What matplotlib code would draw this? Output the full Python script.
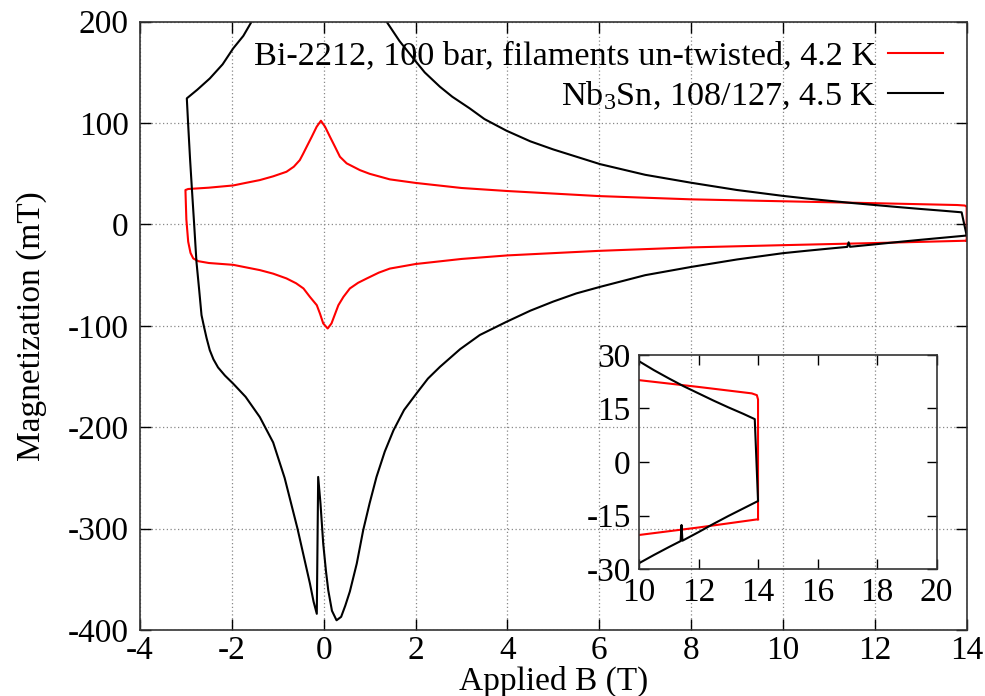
"""Magnetization loops: Bi-2212 round wire vs Nb3Sn, with a zoom of the 10-20 T end."""

import matplotlib
matplotlib.use("Agg")
import matplotlib.pyplot as plt

# Bi-2212, 100 bar, filaments un-twisted, 4.2 K  (B in T, M in mT)
bi_B = [14.00, 14.00, 13.96, 13.79, 12.0, 10.0, 8.0, 6.0, 4.0, 3.0, 2.0, 1.44, 1.2,
        1.0, 0.79, 0.50, 0.354, 0.246, 0.137, 0.03, -0.06, -0.153, -0.26, -0.37, -0.45,
        -0.52, -0.65, -0.81, -1.1, -1.39, -1.7, -1.97, -2.50, -2.95, -3.01, -2.99,
        -2.95, -2.90, -2.84, -2.73, -2.50, -1.97, -1.39, -1.1, -0.81, -0.60, -0.44,
        -0.30, -0.15, -0.08, -0.01, 0.087, 0.17, 0.25, 0.32, 0.43, 0.57, 0.75, 0.94,
        1.2, 1.44, 2.0, 3.0, 4.0, 6.0, 8.0, 10.0, 12.0, 14.0]
bi_M = [-16.0, 17.5, 18.7, 19.2, 21.0, 22.9, 24.8, 28.0, 33.0, 36.0, 41.0, 44.5, 47.5,
        50.0, 53.6, 60.3, 66.8, 76.7, 86.5, 96.4, 102.3, 96.4, 86.5, 76.7, 69.5,
        63.5, 57.0, 52.0, 47.5, 43.8, 41.0, 38.5, 36.3, 35.0, 34.0, 5.0,
        -17.0, -28.0, -33.5, -36.2, -38.0, -39.8, -45.0, -48.5, -53.2, -58.0, -63.1,
        -71.4, -79.6, -88.0, -97.6, -102.6, -97.6, -88.0, -79.6, -71.4, -63.1, -57.5, -53.2,
        -47.5, -43.5, -39.0, -34.0, -30.5, -26.0, -22.6, -20.4, -18.3, -16.0]

# Nb3Sn, 108/127, 4.5 K
nb_B = [-1.45, -1.57, -1.75, -1.97, -2.20, -2.48, -2.75, -2.98, -2.95, -2.91, -2.87,
        -2.82, -2.77, -2.71, -2.66, -2.60, -2.55, -2.48, -2.40, -2.30, -2.15, -1.97,
        -1.70, -1.39, -1.10, -0.85, -0.57, -0.42, -0.30, -0.22, -0.15, -0.12, -0.07,
        -0.01, 0.05, 0.10, 0.18, 0.28, 0.38, 0.47, 0.57, 0.72, 0.86, 1.00, 1.15, 1.33,
        1.52, 1.75, 2.02, 2.27, 2.53, 2.97, 3.40, 3.98, 4.50, 5.00, 5.50, 6.02, 7.00,
        8.01, 9.00, 10.0, 10.5, 11.0, 11.40, 11.43, 11.46, 12.0, 12.5, 13.0, 13.5, 14.0,
        13.89, 13.5, 13.0, 12.5, 12.0, 11.5, 11.0, 10.5, 10.0, 9.0, 8.01, 7.0, 6.02,
        5.0, 4.5, 3.98, 3.5, 3.18, 2.8, 2.53, 2.2, 1.95, 1.65, 1.37, 1.25]
nb_M = [212, 200, 186, 173.7, 158, 144, 133, 124.4, 98, 65, 35.6,
        0, -36.8, -65, -89.4, -102, -112, -124, -133, -141, -149, -157,
        -170, -190, -215, -250, -300, -330, -354, -372, -384, -249, -275,
        -314.8, -342, -360.9, -381, -390.4, -387, -376, -362, -334.5, -301.6, -275, -249, -224,
        -203, -183, -166.7, -152, -140.5, -123, -109, -96, -85, -76, -68, -61.5, -50,
        -41.8, -34.5, -28.3, -26.0, -23.8, -22.1, -17.6, -22.0, -19.6, -17.3, -15.1, -13.0, -10.9,
        12.0, 13.5, 15.3, 17.2, 19.2, 21.2, 23.4, 25.7, 28.2, 34.0, 41.1, 49.0, 59.5,
        74.0, 82.0, 92.5, 104.0, 114.5, 126.0, 135.9, 150.0, 163.9, 181.0, 200, 212]

bi_label = "Bi-2212, 100 bar, filaments un-twisted, 4.2 K"
nb_label = "Nb$_3$Sn, 108/127, 4.5 K"

x_ticks = [-4, -2, 0, 2, 4, 6, 8, 10, 12, 14]
y_ticks = [-400, -300, -200, -100, 0, 100, 200]
inset_x_ticks = [10, 12, 14, 16, 18, 20]
inset_y_ticks = [-30, -15, 0, 15, 30]

plt.rcParams["font.family"] = ["Liberation Serif", "DejaVu Serif"]
plt.rcParams["mathtext.fontset"] = "custom"
plt.rcParams["mathtext.rm"] = "Liberation Serif"
plt.rcParams["mathtext.it"] = "Liberation Serif:italic"
plt.rcParams["axes.unicode_minus"] = False
plt.rcParams["font.size"] = 24

fig = plt.figure(figsize=(9.85, 6.96), dpi=100)
ax = fig.add_axes([0.1421, 0.0948, 0.8393, 0.8740])

ax.plot(bi_B, bi_M, color="#ff0000", lw=1.5, label=bi_label)
ax.plot(nb_B, nb_M, color="#000000", lw=1.5, label=nb_label)
ax.set_xlim(-4, 14)
ax.set_ylim(-400, 200)
ax.set_xticks(x_ticks)
ax.set_yticks(y_ticks)
ax.grid(True, color="#888888", lw=0.9, linestyle=(0, (1, 2)))
ax.tick_params(direction="in", top=True, right=True, length=8, width=1.0,
               labelsize=24)
ax.tick_params(axis="x", pad=4)
ax.tick_params(axis="y", pad=8)
for s in ax.spines.values():
    s.set_linewidth(1.2)
    s.set_color("#333333")

ax.set_xlabel("Applied B (T)", fontsize=24)
ax.set_ylabel("Magnetization (mT)", fontsize=24)
ax.xaxis.set_label_coords(0.5, -0.058)
ax.yaxis.set_label_coords(-0.112, 0.5)

ax.legend(loc="upper right", bbox_to_anchor=(0.971, 0.969), frameon=False,
          markerfirst=False, handlelength=1.6, handletextpad=0.34,
          borderaxespad=0, borderpad=0, labelspacing=0.22, fontsize=24.7)

# inset: zoom on the high field end
ins = fig.add_axes([0.6487, 0.1820, 0.3022, 0.3083])
ins.set_facecolor("none")
ins.plot(bi_B, bi_M, color="#ff0000", lw=1.5)
ins.plot(nb_B, nb_M, color="#000000", lw=1.5)
ins.set_xlim(10, 20)
ins.set_ylim(-30, 30)
ins.set_xticks(inset_x_ticks)
ins.set_yticks(inset_y_ticks)
ins.tick_params(direction="in", top=True, right=True, length=7, width=1.0,
                labelsize=24, pad=6)
for s in ins.spines.values():
    s.set_linewidth(1.2)
    s.set_color("#333333")

fig.savefig("out.png", dpi=100)
